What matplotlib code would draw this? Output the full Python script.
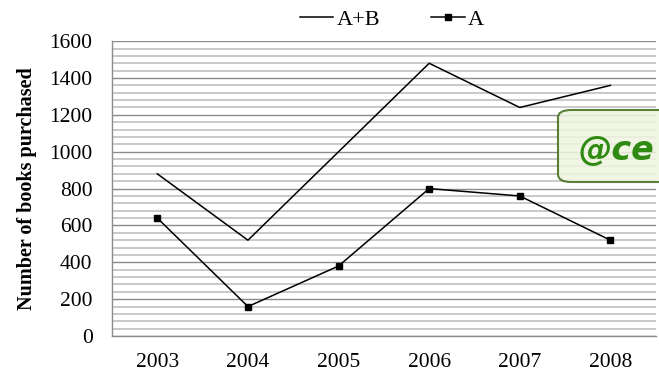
import numpy as np
import matplotlib
matplotlib.use("Agg")
import matplotlib.pyplot as plt
from matplotlib.patches import FancyBboxPatch
from matplotlib.ticker import MultipleLocator

years = ["2003", "2004", "2005", "2006", "2007", "2008"]
a_plus_b = [880, 520, 1000, 1480, 1240, 1360]
a_only = [640, 160, 380, 800, 760, 520]

plt.rcParams['font.family'] = ['Liberation Serif', 'DejaVu Serif']

fig = plt.figure(figsize=(6.59, 3.81), dpi=100)
ax = fig.add_axes([0.170, 0.118, 0.825, 0.774])

x = np.arange(len(years))
ax.plot(x, a_plus_b, color='black', lw=1.1, label='A+B')
ax.plot(x, a_only, color='black', lw=1.1, marker='s', markersize=5, label='A')

ax.set_xlim(-0.5, len(years) - 0.5)
ax.set_ylim(0, 1600)
ax.yaxis.set_major_locator(MultipleLocator(200))
ax.yaxis.set_minor_locator(MultipleLocator(40))
ax.set_xticks(x)
ax.set_xticklabels(years)
ax.tick_params(axis='both', which='both', length=0, labelsize=15.5)
ax.tick_params(axis='y', pad=14)
ax.tick_params(axis='x', pad=12)

ax.grid(True, axis='y', which='minor', color='#c9c9c9', lw=1.4)
ax.grid(True, axis='y', which='major', color='#8c8c8c', lw=1.0)
ax.set_axisbelow(True)

for s in ['top', 'right']:
    ax.spines[s].set_visible(False)
for s in ['left', 'bottom']:
    ax.spines[s].set_color('#8c8c8c')
    ax.spines[s].set_linewidth(1.0)

ax.set_ylabel('Number of books purchased', fontsize=14.5, fontweight='bold', labelpad=9)

leg = ax.legend(loc='lower center', bbox_to_anchor=(0.515, 1.0), ncol=2, frameon=False,
                fontsize=16, handlelength=1.5, columnspacing=2.3, handletextpad=0.15,
                borderaxespad=0.1)

# watermark box on the right
box = FancyBboxPatch((558 / 659, 1 - 182 / 381), 0.2, 72 / 381,
                     boxstyle='round,pad=0,rounding_size=0.02',
                     transform=fig.transFigure, facecolor='#eef5df', alpha=0.85,
                     edgecolor='#3f6b1a', lw=1.5, clip_on=False)
fig.patches.append(box)
fig.text(579 / 659, 1 - 150 / 381, '@ce', fontsize=24, fontweight='bold', style='italic',
         family='DejaVu Sans', color='#2f8a12', va='center', ha='left')

fig.savefig('out.png', dpi=100)
